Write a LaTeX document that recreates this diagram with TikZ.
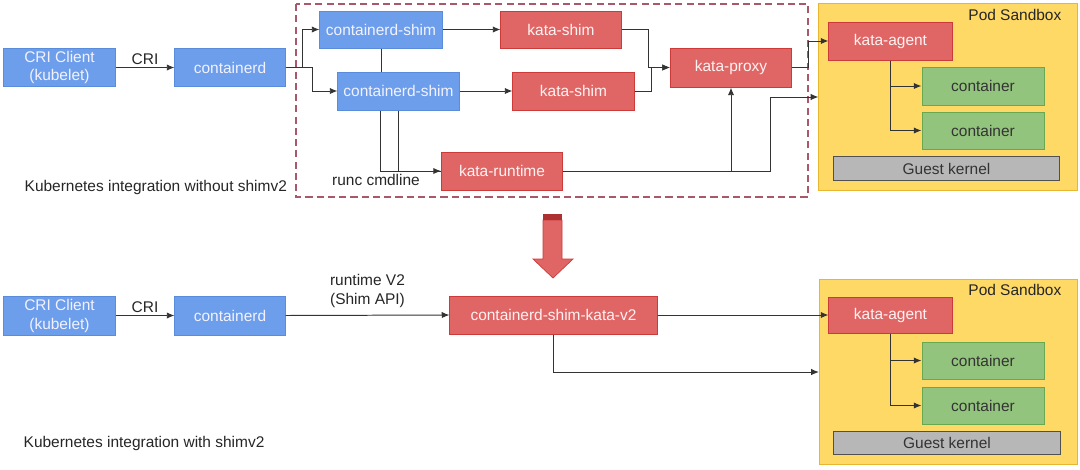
\documentclass[tikz,border=0pt]{standalone}
\usepackage{fontspec}
\setmainfont{Liberation Sans}
\usetikzlibrary{arrows.meta,calc,backgrounds}
\newcommand\txt{\fontsize{11}{13.5}\selectfont}

\begin{document}
\begin{tikzpicture}[x=0.025cm,y=-0.025cm]
\definecolor{bluebox}{HTML}{6D9EEB}  \definecolor{blueline}{HTML}{5A8CDC}
\definecolor{redbox}{HTML}{E06666}   \definecolor{redline}{HTML}{CC3A3A}
\definecolor{greenbox}{HTML}{93C47D} \definecolor{greenline}{HTML}{6AA84F}
\definecolor{podbox}{HTML}{FFD966}   \definecolor{podline}{HTML}{E8B630}
\definecolor{kernbox}{HTML}{B7B7B7}  \definecolor{kernline}{HTML}{505050}
\definecolor{wire}{HTML}{333333}     \definecolor{frame}{HTML}{A85868}
\tikzset{box/.style={draw,line width=0.7pt,minimum height=0.95cm,inner sep=1pt,align=center,font=\txt},
  host/.style={box,fill=bluebox,draw=blueline,text=white!95!blue},
  kata/.style={box,fill=redbox,draw=redline,text=white!95!red},
  ctr/.style={box,fill=greenbox,draw=greenline,text=black!80,minimum width=3.05cm},
  kern/.style={box,fill=kernbox,draw=kernline,text=black!80,minimum width=5.625cm,minimum height=0.59cm},
  pod/.style={draw=podline,fill=podbox,line width=0.7pt,minimum width=6.45cm},
  arr/.style={draw=wire,line width=0.7pt,-{Latex[length=5.5pt,width=4.5pt]}},
  wireline/.style={draw=wire,line width=0.7pt},
  lbl/.style={font=\txt,text=black!85,inner sep=1pt,align=center}}
\useasboundingbox (0,0) rectangle (1080,469);

\node[pod,minimum height=4.65cm] (pod1) at (948,97) {};
\node[pod,minimum height=4.6cm] (pod2) at (948.5,372) {};
\node[lbl,anchor=east] at (1063,15) {Pod Sandbox};
\node[lbl,anchor=east] at (1063,290) {Pod Sandbox};
\draw[frame,dash pattern=on 5pt off 3pt,line width=0.8pt] (296,4) rectangle (808,197);

\node[host,minimum width=2.775cm] (cri1) at (59.5,67.5) {CRI Client\\(kubelet)};
\node[host,minimum width=2.75cm] (ctd1) at (230,67.5) {containerd};
\node[host,minimum width=3.05cm,minimum height=0.925cm] (cshim1) at (381,29.5) {containerd-shim};
\node[host,minimum width=3.025cm] (cshim2) at (398.5,91) {containerd-shim};
\node[kata,minimum width=3cm,minimum height=0.925cm] (kshim1) at (561,29.5) {kata-shim};
\node[kata,minimum width=3.025cm] (kshim2) at (573.5,91) {kata-shim};
\node[kata,minimum width=3.025cm,minimum height=0.975cm] (kproxy) at (731,67.5) {kata-proxy};
\node[kata,minimum width=3.025cm] (krun) at (502,171) {kata-runtime};
\node[kata,minimum width=3.075cm] (agent1) at (890.5,41) {kata-agent};
\node[ctr] (cont1a) at (983,86) {container};
\node[ctr,minimum height=0.925cm] (cont1b) at (983,130.5) {container};
\node[kern] (kern1) at (946.5,168.5) {Guest kernel};

\draw[arr] (cri1) -- node[lbl,above=1pt] {CRI} (ctd1);
\draw[arr] (ctd1.east) -- ++(17,0) |- (cshim1.west);
\draw[arr] (ctd1.east) -- ++(27,0) |- (cshim2.west);
\draw[wireline] (cshim1) -- (cshim1 |- cshim2.north);
\draw[arr] (cshim1) -- (kshim1);
\draw[arr] (cshim2) -- (kshim2);
\draw[arr] (kshim1.east) -- ++(27,0) |- (kproxy.west);
\draw[arr] (kshim2.east) -- ++(17,0) |- (kproxy.west);
\draw[wireline] ([xshift=-0.4625cm]cshim2.south) |- (krun.west);
\draw[arr] (cshim2.south) |- (krun.west);
\node[lbl] at (376,180) {runc cmdline};
\draw[arr] (krun.east) -| (kproxy.south);
\draw[arr] (krun.east) -- ++(207,0) |- (pod1.west);
\draw[arr] (kproxy.east) -- ++(16,0) |- (agent1.west);
\draw[arr] (agent1.south) |- (cont1a.west);
\draw[arr] (agent1.south) |- (cont1b.west);
\node[lbl,anchor=west] at (23,187) {Kubernetes integration without shimv2};

\fill[redbox,draw=redline,line width=0.5pt] (543,220) -- (562,220) -- (562,259) -- (573,259) -- (553,278) -- (533,259) -- (543,259) -- cycle;
\fill[redline!85!black] (543,214) rectangle (562,220);

\node[host,minimum width=2.775cm,minimum height=0.975cm] (cri2) at (59.5,315.5) {CRI Client\\(kubelet)};
\node[host,minimum width=2.75cm,minimum height=0.975cm] (ctd2) at (230,315.5) {containerd};
\node[kata,minimum width=5.175cm] (v2) at (553.5,315) {containerd-shim-kata-v2};
\node[kata,minimum width=3.075cm,minimum height=0.9cm] (agent2) at (890.5,315) {kata-agent};
\node[ctr,minimum height=0.925cm] (cont2a) at (983,360.5) {container};
\node[ctr,minimum height=0.925cm] (cont2b) at (983,405.5) {container};
\node[kern,minimum width=5.65cm] (kern2) at (947,443) {Guest kernel};

\draw[arr] (cri2) -- node[lbl,above=1pt] {CRI} (ctd2);
\draw[arr] (ctd2.east) -- node[lbl,above=4pt] {runtime V2\\(Shim API)} (v2.west);
\draw[arr] (v2) -- (agent2);
\draw[arr] (v2.south) |- (pod2.west);
\draw[arr] (agent2.south) |- (cont2a.west);
\draw[arr] (agent2.south) |- (cont2b.west);
\node[lbl,anchor=west] at (22,443) {Kubernetes integration with shimv2};
\end{tikzpicture}
\end{document}
